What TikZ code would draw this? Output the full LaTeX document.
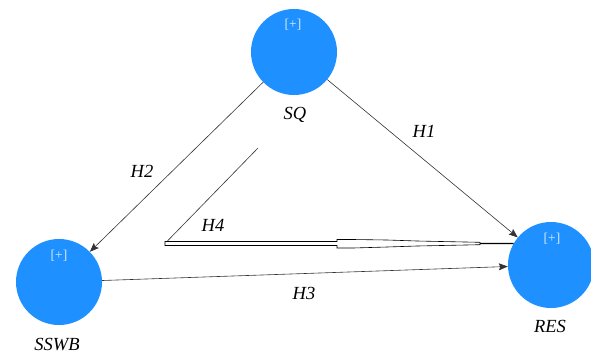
\documentclass[tikz,border=0pt]{standalone}
\usepackage{fontspec}
\setmainfont{Liberation Serif}
\usepackage{xcolor}
\usetikzlibrary{positioning,calc,arrows.meta}
\definecolor{cblue}{HTML}{1E90FF}
\definecolor{cplus}{HTML}{D6EBFF}
\definecolor{cline}{HTML}{333333}

\begin{document}
\begin{tikzpicture}[x=1pt, y=-1pt, >=Stealth,
  lv/.style={circle, fill=cblue, draw=none, minimum size=86pt, inner sep=0pt},
  plus/.style={font=\fontsize{13.5}{15}\selectfont, text=cplus},
  lab/.style={font=\fontsize{18.5}{21}\selectfont\itshape, text=black},
  arr/.style={-{Stealth[length=9pt, width=7pt, inset=1.5pt]}, line width=0.6pt, draw=cline}]
  \useasboundingbox (0,0) rectangle (591,354);
  % --- latent variables
  \node[lv] (sq)   at (294,52)  {};
  \node[lv] (sswb) at (59,282)  {};
  \node[lv] (res)  at (551,265) {};
  \node[plus] (sqp)   at (293,25)  {[+]};
  \node[plus] (sswbp) at (59,256)  {[+]};
  \node[plus] (resp)  at (552,239) {[+]};
  \node[lab] (sql)   at (295,115) {SQ};
  \node[lab] (sswbl) at (57,345)  {SSWB};
  \node[lab] (resl)  at (550,326) {RES};
  % --- paths
  \draw[arr] (sq)   -- (sswb);
  \draw[arr] (sq)   -- (res);
  \draw[arr] (sswb) -- (res);
  \node[lab] (h1) at (424,131) {H1};
  \node[lab] (h2) at (142,171) {H2};
  \node[lab] (h3) at (304,293) {H3};
  \node[lab] (h4) at (213,225) {H4};
  % --- moderating path H4
  \coordinate (h4top)  at (258,148);
  \coordinate (h4bend) at (165,243.5);
  \coordinate (h4tip)  at (480,243.5);
  \draw[line width=0.6pt, draw=cline] (h4top) -- (h4bend);
  \draw[line width=0.6pt, fill=white]
    (165,241.5) -- (337,241.5) -- (337,239.5) -- (353,239.5) -- (387,240)
    -- (417,241) -- (480,242.3) -- (480,244.7) -- (417,246) -- (387,247)
    -- (353,248) -- (337,248) -- (337,245.5) -- (165,245.5) -- cycle;
  \draw[line width=1.2pt] (h4tip) -- (res.150);
\end{tikzpicture}
\end{document}
